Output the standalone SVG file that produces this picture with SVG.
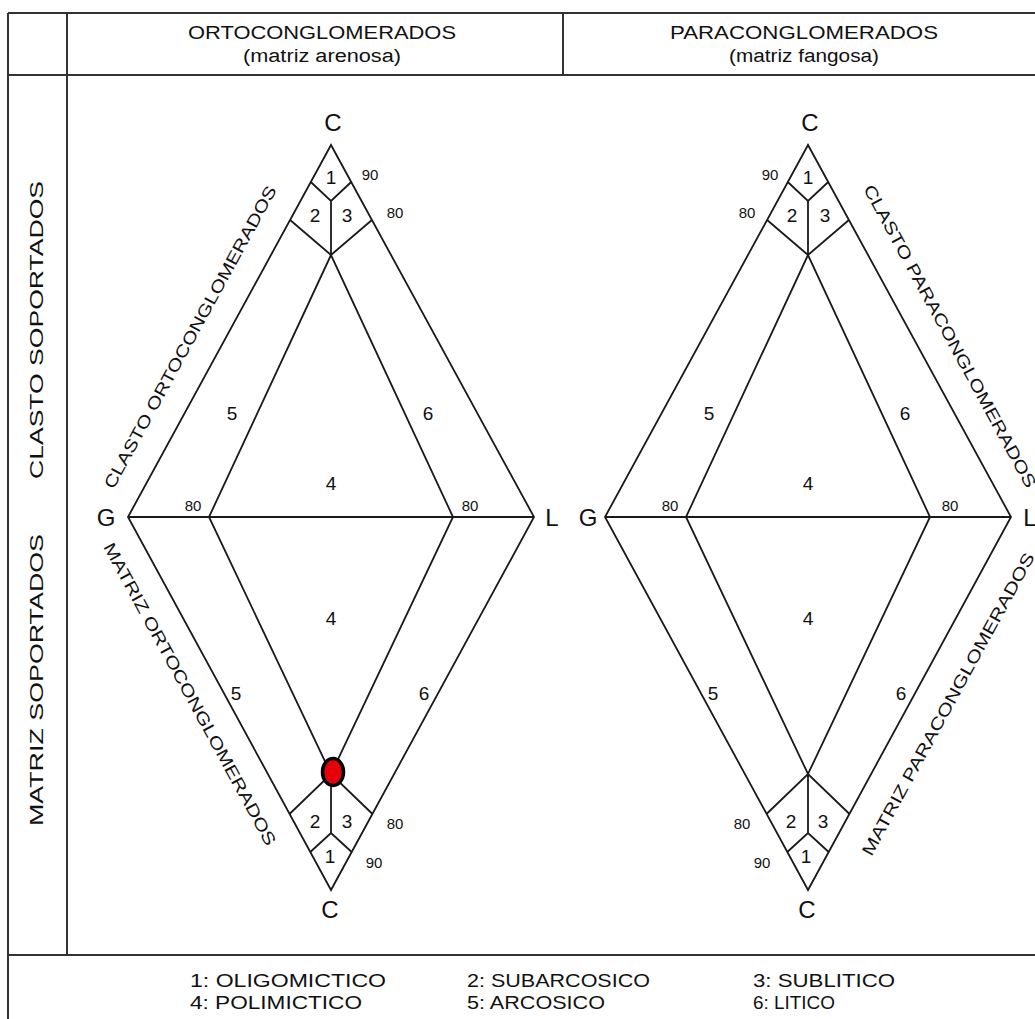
<svg xmlns="http://www.w3.org/2000/svg" width="1035" height="1019" viewBox="0 0 1035 1019">
<style>
text{font-family:"Liberation Sans",Arial,sans-serif;fill:#111}
.frame{stroke:#333;stroke-width:2;fill:none}
.ln{stroke:#1a1a1a;stroke-width:1.8;fill:none;stroke-linejoin:miter}
.hd{font-size:18px;text-anchor:middle}
.side{font-size:18px;text-anchor:middle}
.vx{font-size:24px;text-anchor:middle}
.rg{font-size:19px;text-anchor:middle}
.pc{font-size:15px;text-anchor:middle}
.diag{font-size:17px;text-anchor:middle}
.lg{font-size:18px}
</style>
<rect width="1035" height="1019" fill="#fff"/>
<g id="frame">
<path class="frame" d="M8 13H1035M8 75H1035M8 955H1035M8 13V1019M67 13V955M563 13V75"/>
</g>
<g id="header">
<text class="hd" x="322" y="39" textLength="268" lengthAdjust="spacingAndGlyphs">ORTOCONGLOMERADOS</text>
<text class="hd" x="322" y="62" textLength="158" lengthAdjust="spacingAndGlyphs">(matriz arenosa)</text>
<text class="hd" x="804" y="39" textLength="268" lengthAdjust="spacingAndGlyphs">PARACONGLOMERADOS</text>
<text class="hd" x="804" y="62" textLength="150" lengthAdjust="spacingAndGlyphs">(matriz fangosa)</text>
</g>
<g id="row-labels">
<text class="side" transform="translate(43 330) rotate(-90)" textLength="298" lengthAdjust="spacingAndGlyphs">CLASTO SOPORTADOS</text>
<text class="side" transform="translate(43 680) rotate(-90)" textLength="292" lengthAdjust="spacingAndGlyphs">MATRIZ SOPORTADOS</text>
</g>
<g id="diagram-orto">
<path class="ln" d="M331 145L128 517L331 890L534 517Z M128 517H534"/>
<path class="ln" d="M331 255L209 517L331 774L453 517Z"/>
<path class="ln" d="M310.8 182L331 201L351.2 182M331 201V255M290.1 220L331 255L371.9 220"/>
<path class="ln" d="M310.3 852L331 833L351.7 852M331 833V774M289.5 814L331 774L372.5 814"/>
<text class="vx" x="333" y="131">C</text>
<text class="vx" x="330" y="918">C</text>
<text class="vx" x="106" y="526">G</text>
<text class="vx" x="552" y="526">L</text>
<text class="rg" x="331" y="184">1</text>
<text class="rg" x="315" y="222">2</text>
<text class="rg" x="347" y="222">3</text>
<text class="rg" x="315" y="828">2</text>
<text class="rg" x="347" y="828">3</text>
<text class="rg" x="330" y="863">1</text>
<text class="rg" x="232" y="420">5</text>
<text class="rg" x="428" y="420">6</text>
<text class="rg" x="331" y="490">4</text>
<text class="rg" x="331" y="625">4</text>
<text class="rg" x="236" y="700">5</text>
<text class="rg" x="424" y="700">6</text>
<text class="pc" x="370" y="180">90</text>
<text class="pc" x="395" y="218">80</text>
<text class="pc" x="395" y="829">80</text>
<text class="pc" x="374" y="868">90</text>
<text class="pc" x="193" y="511">80</text>
<text class="pc" x="470" y="511">80</text>
<text class="diag" transform="translate(190 337) rotate(-61.4)" dy="6" textLength="342" lengthAdjust="spacingAndGlyphs">CLASTO ORTOCONGLOMERADOS</text>
<text class="diag" transform="translate(190 694) rotate(61.4)" dy="6" textLength="342" lengthAdjust="spacingAndGlyphs">MATRIZ ORTOCONGLOMERADOS</text>
<ellipse cx="333" cy="772" rx="10.5" ry="13.5" fill="#e8000b" stroke="#000" stroke-width="3.5"/>
</g>
<g id="diagram-para">
<path class="ln" d="M808 145L605 517L808 890L1011 517Z M605 517H1011"/>
<path class="ln" d="M808 255L686 517L808 774L930 517Z"/>
<path class="ln" d="M787.8 182L808 201L828.2 182M808 201V255M767.1 220L808 255L848.9 220"/>
<path class="ln" d="M787.3 852L808 833L828.7 852M808 833V774M766.5 814L808 774L849.5 814"/>
<text class="vx" x="810" y="131">C</text>
<text class="vx" x="807" y="918">C</text>
<text class="vx" x="588" y="526">G</text>
<text class="vx" x="1030" y="526">L</text>
<text class="rg" x="808" y="184">1</text>
<text class="rg" x="792" y="222">2</text>
<text class="rg" x="825" y="222">3</text>
<text class="rg" x="791" y="828">2</text>
<text class="rg" x="823" y="828">3</text>
<text class="rg" x="806" y="863">1</text>
<text class="rg" x="709" y="420">5</text>
<text class="rg" x="905" y="420">6</text>
<text class="rg" x="808" y="490">4</text>
<text class="rg" x="808" y="625">4</text>
<text class="rg" x="713" y="700">5</text>
<text class="rg" x="901" y="700">6</text>
<text class="pc" x="770" y="180">90</text>
<text class="pc" x="747" y="218">80</text>
<text class="pc" x="742" y="829">80</text>
<text class="pc" x="762" y="868">90</text>
<text class="pc" x="670" y="511">80</text>
<text class="pc" x="950" y="511">80</text>
<text class="diag" transform="translate(950 336) rotate(61.4)" dy="6" textLength="342" lengthAdjust="spacingAndGlyphs">CLASTO PARACONGLOMERADOS</text>
<text class="diag" transform="translate(948 704) rotate(-61.4)" dy="6" textLength="342" lengthAdjust="spacingAndGlyphs">MATRIZ PARACONGLOMERADOS</text>
</g>
<g id="legend">
<text class="lg" x="190" y="987" textLength="196" lengthAdjust="spacingAndGlyphs">1: OLIGOMICTICO</text>
<text class="lg" x="190" y="1009" textLength="172" lengthAdjust="spacingAndGlyphs">4: POLIMICTICO</text>
<text class="lg" x="467" y="987" textLength="183" lengthAdjust="spacingAndGlyphs">2: SUBARCOSICO</text>
<text class="lg" x="467" y="1009" textLength="138" lengthAdjust="spacingAndGlyphs">5: ARCOSICO</text>
<text class="lg" x="753" y="987" textLength="142" lengthAdjust="spacingAndGlyphs">3: SUBLITICO</text>
<text class="lg" x="753" y="1009" textLength="82" lengthAdjust="spacingAndGlyphs">6: LITICO</text>
</g>
</svg>
